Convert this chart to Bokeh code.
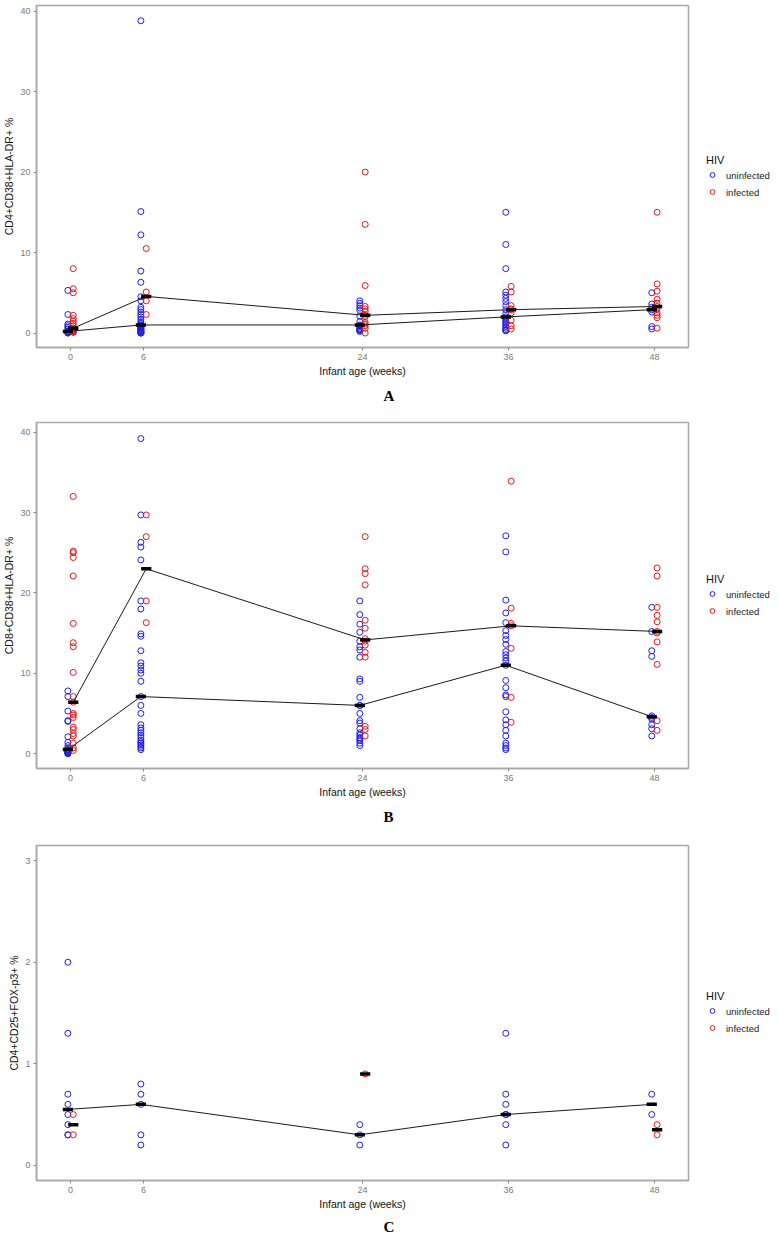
import numpy as np
from bokeh.plotting import figure
from bokeh.models import Range1d, FixedTicker, Legend, LegendItem, Title, ColumnDataSource
from bokeh.layouts import column, row
from bokeh.embed import file_html
from bokeh.resources import INLINE

# ---------------- data ----------------
weeks = [0, 6, 24, 36, 48]
week_labels = ["0", "6", "24", "36", "48"]
x_title = "Infant age (weeks)"
legend_title = "HIV"
group_names = ["uninfected", "infected"]

# Panel A: CD4+CD38+HLA-DR+ %  (one list per week)
a_ylabel = "CD4+CD38+HLA-DR+ %"
a_uninfected = [
    [5.3, 2.3, 1.1, 0.9, 0.7, 0.5, 0.2, 0.2, 0.2, 0.1, 0.1, 0.0, 0.0],
    [38.8, 15.1, 12.2, 7.7, 6.3, 4.5, 4.0, 3.2, 2.9, 2.6, 2.3, 2.0, 1.7, 1.4, 1.2, 1.0,
     0.9, 0.8, 0.7, 0.6, 0.5, 0.5, 0.4, 0.3, 0.3, 0.2, 0.1, 0.1, 0.0, 0.0, 0.0],
    [4.0, 3.7, 3.4, 3.1, 2.8, 2.1, 1.4, 1.0, 0.9, 0.8, 0.6, 0.5, 0.4, 0.3, 0.2],
    [15.0, 11.0, 8.0, 5.1, 4.7, 4.3, 3.9, 3.4, 2.9, 2.4, 2.0, 1.8, 1.6, 1.4, 1.2, 1.0,
     0.8, 0.6, 0.4, 0.3, 0.3],
    [5.0, 3.6, 3.2, 2.9, 2.6, 0.8, 0.5],
]
a_infected = [
    [8.0, 5.5, 5.0, 2.2, 1.8, 1.5, 1.2, 0.9, 0.6, 0.5, 0.4, 0.3, 0.3, 0.2, 0.2, 0.1, 0.1],
    [10.5, 5.1, 4.0, 2.3],
    [20.0, 13.5, 5.9, 3.3, 3.0, 2.7, 2.2, 2.0, 1.3, 1.1, 0.9, 0.6, 0.0],
    [5.8, 5.1, 3.4, 3.0, 2.9, 2.5, 1.6, 0.9, 0.5],
    [15.0, 6.1, 5.2, 4.2, 3.7, 3.3, 3.0, 2.5, 2.2, 1.9, 0.6],
]

# Panel B: CD8+CD38+HLA-DR+ %
b_ylabel = "CD8+CD38+HLA-DR+ %"
b_uninfected = [
    [7.8, 7.1, 5.3, 4.1, 4.0, 2.1, 1.4, 1.0, 0.7, 0.5, 0.5, 0.4, 0.3, 0.3, 0.2, 0.1, 0.1, 0.0, 0.0],
    [39.2, 29.7, 26.3, 25.7, 24.1, 19.0, 18.0, 14.9, 14.6, 12.8, 11.3, 10.9, 10.4, 10.0, 9.0,
     7.1, 6.0, 5.0, 3.6, 3.2, 2.9, 2.6, 2.3, 2.0, 1.7, 1.5, 1.3, 1.1, 0.9, 0.7, 0.5],
    [19.0, 17.3, 16.1, 15.1, 14.0, 13.3, 12.9, 12.0, 9.3, 9.0, 7.0, 6.0, 6.0, 5.0, 4.1, 3.8,
     3.1, 2.6, 2.3, 2.0, 1.8, 1.6, 1.3, 1.0],
    [27.1, 25.1, 19.1, 17.5, 16.3, 15.3, 14.7, 14.2, 13.6, 12.7, 12.3, 11.9, 11.5, 11.0, 9.1,
     8.2, 7.3, 7.1, 5.2, 4.2, 3.6, 2.9, 2.2, 1.3, 1.0, 0.7, 0.5],
    [18.2, 15.2, 12.8, 12.1, 4.7, 4.5, 4.3, 3.6, 3.1, 2.2],
]
b_infected = [
    [32.0, 25.2, 25.0, 24.4, 22.1, 16.2, 13.8, 13.3, 10.1, 7.1, 6.4, 5.0, 4.8, 4.5, 3.3, 3.0,
     2.5, 2.2, 1.3, 0.7, 0.4],
    [29.7, 27.0, 19.0, 16.3],
    [27.0, 23.0, 22.4, 21.0, 16.6, 15.6, 14.3, 14.0, 13.5, 12.6, 12.0, 3.4, 3.0, 2.2],
    [33.9, 18.1, 16.2, 15.9, 13.1, 7.0, 3.9],
    [23.1, 22.1, 18.2, 17.2, 16.4, 15.2, 15.0, 13.9, 11.1, 4.1, 2.9],
]

# Panel C: CD4+CD25+FOX-p3+ %
c_ylabel = "CD4+CD25+FOX-p3+ %"
c_uninfected = [
    [2.0, 1.3, 0.7, 0.6, 0.5, 0.4, 0.3, 0.3],
    [0.8, 0.7, 0.6, 0.3, 0.2],
    [0.4, 0.3, 0.2],
    [1.3, 0.7, 0.6, 0.5, 0.5, 0.4, 0.2],
    [0.7, 0.5],
]
c_infected = [
    [0.5, 0.3],
    [],
    [0.9],
    [],
    [0.4, 0.3],
]

# ---------------- styling ----------------
SANS = "Liberation Sans"
SERIF = "Liberation Serif"
BLUE = "#1f1fe6"
RED = "#e31a1a"
DODGE = 0.22
HALF_BAR = 0.42
FRAME_W = 652
LEG_W = 84


def style_legend(legend):
    legend.title_text_font = SANS
    legend.title_text_font_size = "11px"
    legend.title_text_font_style = "normal"
    legend.title_text_color = "#111111"
    legend.title_standoff = 2
    legend.label_text_font = SANS
    legend.label_text_font_size = "9.5px"
    legend.label_text_color = "#222222"
    legend.label_standoff = 8
    legend.glyph_width = 12
    legend.glyph_height = 14
    legend.label_height = 14
    legend.spacing = 3
    legend.padding = 2
    legend.margin = 16
    legend.border_line_color = None
    legend.background_fill_color = None


def make_panel(uninf, inf, ylabel, yr, yticks, letter, frame_h, top, letter_standoff, leg_extra):
    p = figure(frame_width=FRAME_W, frame_height=frame_h, output_backend="svg",
               toolbar_location=None,
               x_range=Range1d(-2.8, 50.8), y_range=Range1d(*yr),
               min_border_left=36, min_border_right=2,
               min_border_top=top, min_border_bottom=0)
    p.grid.visible = False
    p.outline_line_color = "#a8a8a8"
    p.outline_line_width = 1.5
    p.background_fill_color = "white"
    p.border_fill_color = "white"

    meds_all = []
    for grp, data, col, off in (("uninfected", uninf, BLUE, -DODGE), ("infected", inf, RED, DODGE)):
        xs, ys = [], []
        mx, my = [], []
        for w, vals in zip(weeks, data):
            xs += [w + off] * len(vals)
            ys += vals
            if len(vals):
                mx.append(w + off)
                my.append(float(np.median(vals)))
        src = ColumnDataSource(dict(x=xs, y=ys))
        p.scatter("x", "y", source=src, marker="circle", size=6,
                  fill_color=None, line_color=col, line_width=1)
        meds_all.append((mx, my, len(mx) == len(weeks)))

    for mx, my, complete in meds_all:
        if complete:
            p.line(mx, my, line_color="#1a1a1a", line_width=1)
    for mx, my, complete in meds_all:
        mx = np.array(mx)
        p.segment(x0=mx - HALF_BAR, x1=mx + HALF_BAR, y0=my, y1=my,
                  line_color="black", line_width=3.5)

    # axes
    p.xaxis.ticker = FixedTicker(ticks=weeks)
    p.xaxis.major_label_overrides = {w: l for w, l in zip(weeks, week_labels)}
    p.yaxis.ticker = FixedTicker(ticks=yticks)
    for ax in (p.xaxis, p.yaxis):
        ax.axis_line_color = "#a8a8a8"
        ax.axis_line_width = 1.5
        ax.major_tick_line_color = "#8a8a8a"
        ax.major_tick_out = 3
        ax.major_tick_in = 0
        ax.minor_tick_line_color = None
        ax.major_label_text_font = SANS
        ax.major_label_text_font_size = "9px"
        ax.major_label_text_color = "#7a7a7a"
        ax.major_label_standoff = 3
        ax.axis_label_text_font = SANS
        ax.axis_label_text_font_size = "10.5px"
        ax.axis_label_text_font_style = "normal"
        ax.axis_label_text_color = "#111111"
        ax.axis_label_standoff = 2
    p.xaxis.axis_label = x_title
    p.yaxis.axis_label = ylabel

    t = Title(text=letter, align="left", offset=347, text_font=SERIF,
              text_font_size="15px", text_font_style="bold", text_color="black",
              standoff=letter_standoff)
    p.add_layout(t, "below")

    # legend lives in a narrow companion figure to the right,
    # vertically centred next to the plot frame
    lh = 2 * top + frame_h + leg_extra
    q = figure(width=LEG_W, height=lh, output_backend="svg", toolbar_location=None,
               x_axis_location=None, y_axis_location=None,
               min_border_left=0, min_border_right=0, min_border_top=0, min_border_bottom=0,
               x_range=Range1d(0, 1), y_range=Range1d(0, 1))
    q.grid.visible = False
    q.outline_line_color = None
    q.background_fill_color = "white"
    q.border_fill_color = "white"
    r_u = q.scatter(x=[-5], y=[-5], marker="circle", size=6, fill_color=None,
                    line_color=BLUE, line_width=1)
    r_i = q.scatter(x=[-5], y=[-5], marker="circle", size=6, fill_color=None,
                    line_color=RED, line_width=1)
    legend = Legend(items=[LegendItem(label=group_names[0], renderers=[r_u]),
                           LegendItem(label=group_names[1], renderers=[r_i])],
                    title=legend_title, location="center_left")
    style_legend(legend)
    q.add_layout(legend, "center")
    return row(p, q, spacing=0)


pA = make_panel(a_uninfected, a_infected, a_ylabel, (-1.8, 40.7), [0, 10, 20, 30, 40], "A", 342, 5, 13, 58)
pB = make_panel(b_uninfected, b_infected, b_ylabel, (-1.85, 41.2), [0, 10, 20, 30, 40], "B", 346, 12, 13, 51)
pC = make_panel(c_uninfected, c_infected, c_ylabel, (-0.15, 3.15), [0, 1, 2, 3], "C", 335, 14, 8, 43)

layout = column(pA, pB, pC, spacing=0)
open("out.html", "w").write(file_html(layout, INLINE))
